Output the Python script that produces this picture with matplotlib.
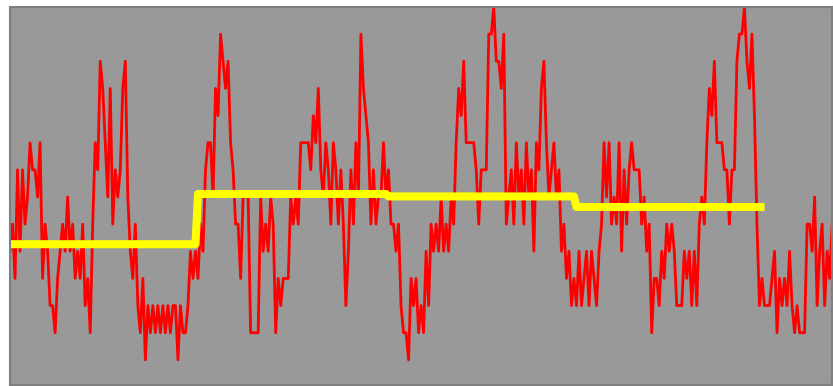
import numpy as np
import matplotlib
matplotlib.use("Agg")
import matplotlib.pyplot as plt

# raw signal, one value per sample
signal = [
    4, 5, 3, 7, 4, 7, 5, 6, 8, 7, 7, 6, 8, 3, 5, 4, 2, 2, 1, 3,
    4, 5, 4, 6, 4, 5, 3, 4, 3, 5, 2, 3, 1, 5, 8, 7, 11, 10, 8, 6,
    10, 5,
    7, 6, 7, 10, 11, 6, 4, 3, 5, 2, 1, 3, 0, 2, 1, 2, 1, 2, 1, 2,
    1, 2, 1, 2, 2, 0, 2, 1, 1, 2, 4, 3, 4, 3, 5, 4, 7, 8,
    8, 6, 10,
    9, 12, 11, 10, 11, 8, 7, 5, 5, 3, 6, 6, 6, 1, 1, 1, 1, 6, 4, 5,
    4, 6, 5, 1, 3, 2, 3, 3, 3, 6, 5, 6, 5, 8, 8, 8, 8, 7, 9, 8,
    10,
    7, 6, 8, 7, 5, 8, 7, 5, 7, 5, 2, 4, 7, 5, 8, 6, 12, 10, 9, 8,
    5, 7, 5, 6, 6, 8, 6, 7, 5, 5, 4, 5, 2, 1, 1, 0, 3, 2, 3, 1,
    2, 1, 4, 2, 5, 4, 5, 4, 6, 4, 5, 4, 6, 5, 8, 10, 9, 11, 8, 8,
    8, 8, 7, 5, 7, 7, 7, 12, 12, 13, 11, 11, 10, 12, 5, 6, 7, 5, 8, 6,
    7,
    5, 8, 6, 7, 4, 8, 7, 10, 11, 8, 6, 7, 8, 6, 7, 4, 5, 3, 4,
    2, 3, 2, 4, 2, 3, 4, 2, 4, 3, 2, 4, 5, 8, 6, 8, 5, 6, 5, 8,
    4, 7,
    5, 7, 8, 7, 7, 7, 5, 6, 4, 5, 1, 3, 3, 2, 4, 3, 5, 4, 5,
    4, 2, 2, 2, 4, 3, 4, 2, 4, 2, 5, 6, 5, 8, 10, 9, 11, 8, 8, 8,
    7,
    7, 5, 7, 7, 11, 12, 12, 13, 11, 10, 12, 9, 5, 2, 3, 2, 2, 2, 3, 4,
    1, 3, 2, 3, 2, 4, 2, 1, 2, 1, 1, 1, 5, 5, 4, 6, 2, 4, 5, 2,
    4, 3, 5,
]

# block means and how many samples each block covers
block_means = [4.26, 6.11, 6.02, 5.63]
block_lengths = [75, 76, 75, 76]

x = np.arange(len(signal))
means = np.repeat(block_means, block_lengths)

fig = plt.figure(figsize=(8.33, 3.86), dpi=100)
ax = fig.add_axes([0.012, 0.003, 0.987, 0.979])
ax.set_facecolor("#999999")

ax.plot(x, signal, color="#ff0000", lw=2.0)
ax.plot(np.arange(len(means)), means, color="#ffff00", lw=5.8,
        solid_capstyle="butt", solid_joinstyle="round")

ax.set_xlim(0, len(signal) - 1)
ax.set_ylim(-0.92, 13)
ax.set_xticks([])
ax.set_yticks([])
for s in ax.spines.values():
    s.set_color("#7f7f7f")
    s.set_linewidth(1.5)

fig.savefig("out.png", dpi=100)
